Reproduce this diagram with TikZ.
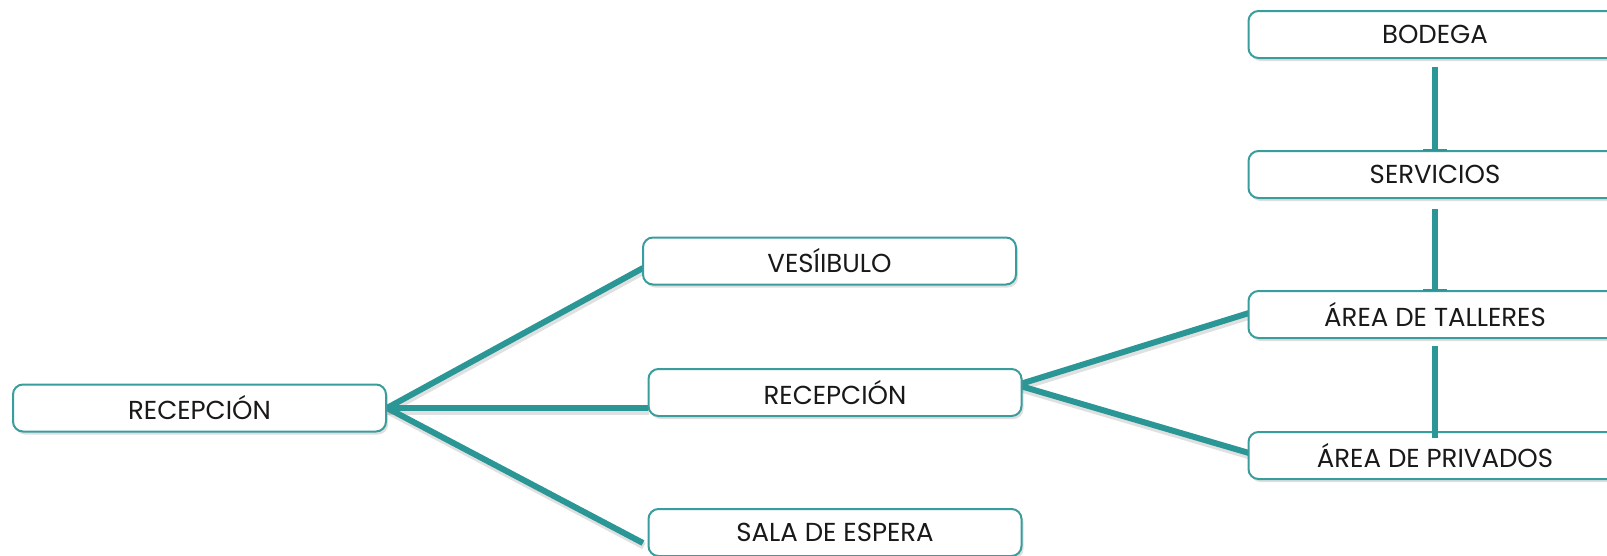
\documentclass[tikz,border=0pt]{standalone}
\usepackage{fontspec}
\setmainfont{Poppins}
\usetikzlibrary{shadows,arrows.meta}
\definecolor{tealline}{HTML}{2B9696}
\definecolor{tealbox}{HTML}{3A9D9D}
\tikzset{
  box/.style={draw=tealbox, line width=2pt, rounded corners=10pt, fill=white,
    minimum width=373pt, minimum height=47pt, inner sep=0pt,
    font=\fontsize{26}{28}\selectfont, text=black!90,
    drop shadow={opacity=0.25, shadow xshift=2pt, shadow yshift=-3pt}},
  link/.style={draw=tealline, line width=6pt},
  linkshadow/.style={draw=black, opacity=0.12, line width=7pt},
}
\begin{document}
\begin{tikzpicture}[x=1pt,y=-1pt]
\useasboundingbox (0,0) rectangle (1607,555);
% connectors first (under boxes)
\coordinate (vin) at (643,268);
\coordinate (min) at (648,408);
\coordinate (sin) at (643,543);
\coordinate (lout) at (387,408);
\coordinate (mout) at (1017,385);
\coordinate (tin) at (1249,313);
\coordinate (pin) at (1249,453);
\foreach \a/\b in {lout/vin,lout/min,lout/sin,mout/tin,mout/pin}{
  \draw[linkshadow] ([xshift=1pt,yshift=-3pt]\a) -- ([xshift=1pt,yshift=-3pt]\b);
  \draw[link] (\a) -- (\b);
}
\node[box] (L) at (199.5,408) {RECEPCIÓN};
\node[box] (V) at (829.5,261) {VESÍIBULO};
\node[box] (M) at (835,392.5) {RECEPCIÓN};
\node[box] (S) at (835,532.5) {SALA DE ESPERA};
\node[box] (B) at (1435,34.5) {BODEGA};
\node[box] (SV) at (1435,174.5) {SERVICIOS};
\node[box] (T) at (1435,314.5) {ÁREA DE TALLERES};
\node[box] (P) at (1435,455.5) {ÁREA DE PRIVADOS};
% vertical connectors
\draw[link,-{Bar[width=24pt,line width=2.5pt]}] ([yshift=-8pt]B.south) -- ([yshift=-1pt]SV.north);
\draw[link,-{Bar[width=24pt,line width=2.5pt]}] ([yshift=-10pt]SV.south) -- ([yshift=-1pt]T.north);
\draw[link] ([yshift=-7pt]T.south) -- ([yshift=-7pt]P.north);
\end{tikzpicture}
\end{document}
